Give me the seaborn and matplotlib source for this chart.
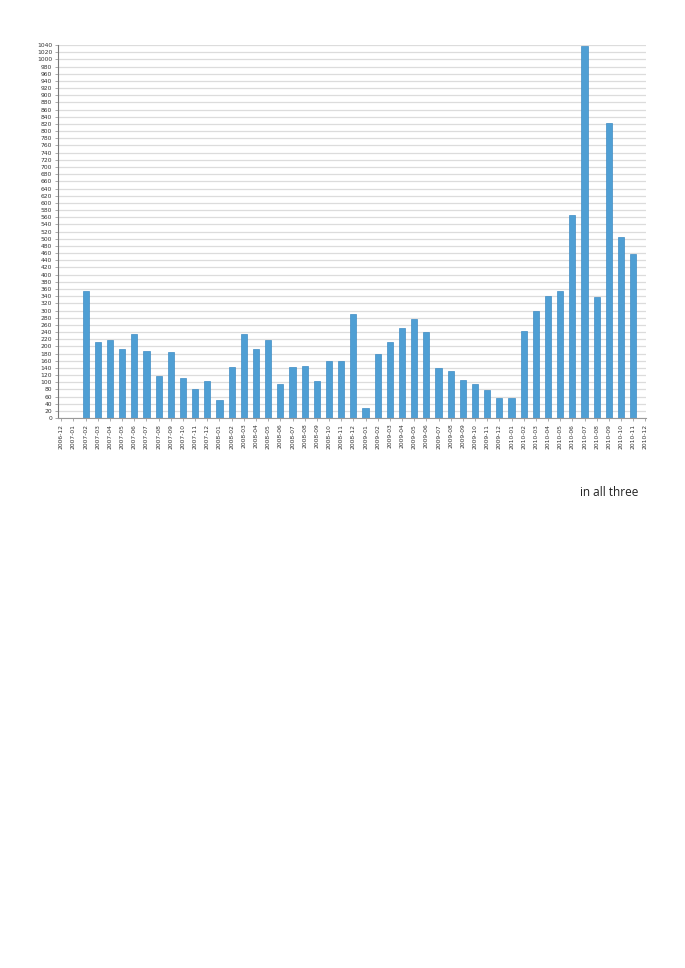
import matplotlib
matplotlib.use("Agg")
import matplotlib.pyplot as plt
import pandas as pd
import seaborn as sns

months = [
    "2006-12",
    "2007-01", "2007-02", "2007-03", "2007-04", "2007-05", "2007-06",
    "2007-07", "2007-08", "2007-09", "2007-10", "2007-11", "2007-12",
    "2008-01", "2008-02", "2008-03", "2008-04", "2008-05", "2008-06",
    "2008-07", "2008-08", "2008-09", "2008-10", "2008-11", "2008-12",
    "2009-01", "2009-02", "2009-03", "2009-04", "2009-05", "2009-06",
    "2009-07", "2009-08", "2009-09", "2009-10", "2009-11", "2009-12",
    "2010-01", "2010-02", "2010-03", "2010-04", "2010-05", "2010-06",
    "2010-07", "2010-08", "2010-09", "2010-10", "2010-11", "2010-12",
]
counts = [
    0,
    0, 355, 212, 219, 194, 235,
    186, 118, 184, 113, 80, 105,
    52, 144, 234, 193, 217, 95,
    143, 145, 103, 159, 159, 290,
    29, 178, 212, 251, 276, 240,
    140, 131, 106, 96, 79, 55,
    55, 244, 299, 340, 354, 567,
    1038, 338, 824, 506, 458, 0,
]
y_ticks = list(range(0, 1041, 20))

sns.set_style("white")
plt.rcParams['font.family'] = ['Liberation Sans Narrow', 'DejaVu Sans']

df = pd.DataFrame({"month": months, "count": counts})

fig = plt.figure(figsize=(6.85, 9.68), dpi=100)
ax = fig.add_axes([0.0842, 0.568, 0.8588, 0.3855])
ax.set_axisbelow(True)
ax.yaxis.grid(True, color="#dcdcdc", linewidth=0.9)

sns.barplot(data=df, x="month", y="count", order=months, color="#4f9fd4",
            edgecolor="#3f8cc4", linewidth=0.5, width=0.5, saturation=1, ax=ax)

ax.set_xlim(-0.3, 48.05)
ax.set_ylim(0, 1040)
ax.set_yticks(y_ticks)
ax.set_yticklabels([str(v) for v in y_ticks], fontsize=4.3, color="#333333")
ax.set_xticks(range(len(months)))
ax.set_xticklabels(months, rotation=90, fontsize=4.3, color="#333333")
ax.tick_params(axis="both", length=2, width=0.5, color="#888888", pad=2, left=True, bottom=True)
ax.set_xlabel("")
ax.set_ylabel("")
for side in ["top", "right"]:
    ax.spines[side].set_visible(False)
ax.spines["left"].set_color("#777777")
ax.spines["left"].set_linewidth(0.8)
ax.spines["bottom"].set_color("#999999")
ax.spines["bottom"].set_linewidth(0.8)

fig.text(0.847, 0.4915, "in all three", fontsize=8.5, color="#222222", va="center",
         family=["Open Sans", "DejaVu Sans"])

fig.savefig("out.png", dpi=100)
